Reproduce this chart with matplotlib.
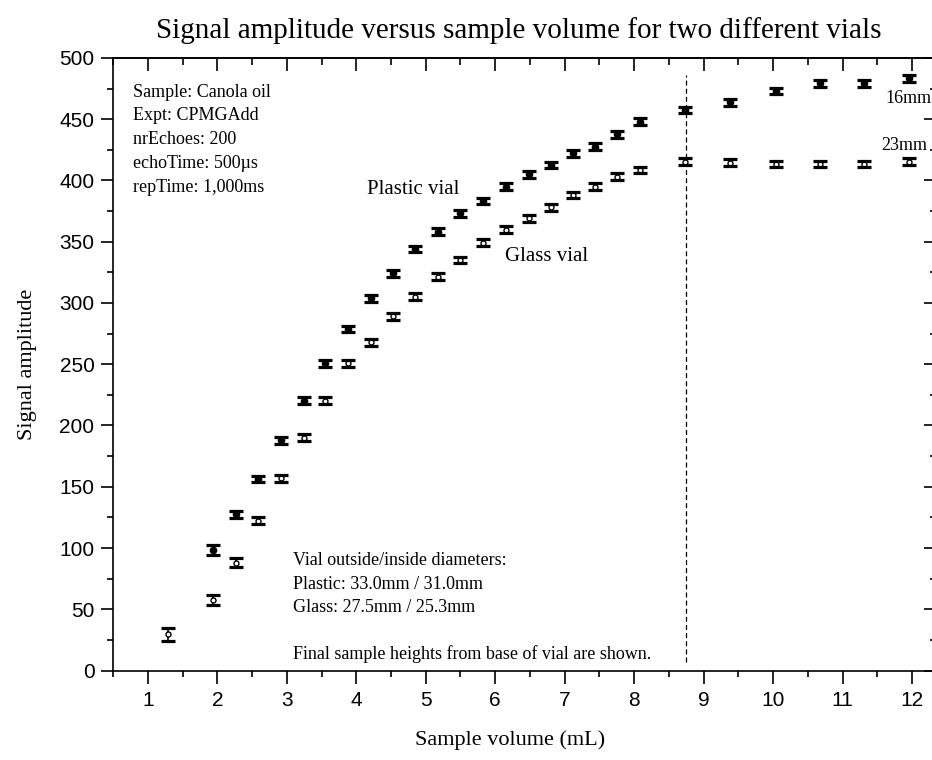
import matplotlib
matplotlib.use('Agg')
import matplotlib.pyplot as plt
from matplotlib.ticker import MultipleLocator

# sample volumes (mL)
vol = [1.94, 2.27, 2.59, 2.92, 3.24, 3.55, 3.88, 4.21, 4.53, 4.85, 5.18, 5.50, 5.83,
       6.15, 6.48, 6.80, 7.12, 7.44, 7.76, 8.08, 8.73, 9.38, 10.04, 10.68, 11.31, 11.96]

plastic = [98.4, 127.5, 156.3, 188.1, 220.2, 250.8, 278.8, 303.8, 324.3, 344.1, 358.2,
           373.2, 383.3, 395.0, 405.1, 412.7, 422.2, 427.6, 437.9, 447.9, 457.6, 463.8,
           473.1, 479.3, 479.3, 483.4]
plastic_err = [4.4, 3.0, 2.8, 2.8, 2.8, 2.8, 2.8, 2.8, 2.8, 2.8, 2.8, 2.8, 2.8,
               2.8, 2.8, 2.8, 2.8, 2.8, 2.8, 2.8, 2.8, 2.8, 2.8, 2.8, 2.8, 2.8]

glass_vol = [1.29] + vol
glass = [29.5, 57.5, 88.0, 122.3, 156.9, 190.0, 220.2, 250.8, 268.0, 289.0, 305.1, 321.5,
         335.1, 349.2, 359.8, 369.2, 378.1, 388.2, 395.0, 403.2, 408.6, 415.4, 414.6,
         413.5, 413.5, 413.5, 415.4]
glass_err = [5.2, 4.4, 3.5, 2.8, 2.8, 2.8, 2.8, 2.8, 2.8, 2.8, 2.8, 2.8, 2.8, 2.8,
             2.8, 2.8, 2.8, 2.8, 2.8, 2.8, 2.8, 2.8, 2.8, 2.8, 2.8, 2.8, 2.8]

vline_x = 8.75
vline_span = (7, 486)

info_lines = ['Sample: Canola oil', 'Expt: CPMGAdd', 'nrEchoes: 200',
              'echoTime: 500\u00b5s', 'repTime: 1,000ms']
vial_lines = ['Vial outside/inside diameters:', 'Plastic: 33.0mm / 31.0mm',
              'Glass: 27.5mm / 25.3mm', '', 'Final sample heights from base of vial are shown.']

serif = 'Liberation Serif'
sans = 'Liberation Sans'

W, H = 932, 760
fig = plt.figure(figsize=(W / 100, H / 100), dpi=100)
# axes box in pixels: left 112.5, right 937 (just off the canvas), top 58, bottom 670.5
ax = fig.add_axes([112.5 / W, (H - 670.5) / H, (937 - 112.5) / W, (670.5 - 58) / H])

ax.errorbar(vol, plastic, yerr=plastic_err, fmt='o', color='black', ms=4.5,
            elinewidth=1.5, capsize=4.8, capthick=2.3, zorder=3)

# glass: bar under the open marker, heavy caps above it
_, caps, bars = ax.errorbar(glass_vol, glass, yerr=glass_err, fmt='none', ecolor='black',
                            elinewidth=1.2, capsize=4.8, capthick=2.3)
for b in bars:
    b.set_zorder(2)
for c in caps:
    c.set_zorder(4)
ax.plot(glass_vol, glass, 'o', ms=3.6, mfc='white', mec='black', mew=1, zorder=3)

ax.vlines(vline_x, vline_span[0], vline_span[1], colors='black', linewidth=0.9,
          linestyles=(0, (4, 2.5)))

ax.set_xlim(0.49, 12.36)
ax.set_ylim(0, 500)

ax.xaxis.set_major_locator(MultipleLocator(1))
ax.xaxis.set_minor_locator(MultipleLocator(0.5))
ax.yaxis.set_major_locator(MultipleLocator(50))
ax.yaxis.set_minor_locator(MultipleLocator(25))
ax.tick_params(which='major', direction='out', length=9, width=1.2, labelsize=15, pad=4)
ax.tick_params(which='minor', direction='out', length=4.5, width=1.2)
ax.tick_params(axis='x', which='major', pad=6)
for lab in ax.get_xticklabels() + ax.get_yticklabels():
    lab.set_fontfamily(sans)

for s in ax.spines.values():
    s.set_linewidth(1.2)

# inward ticks on top and right
top = ax.secondary_xaxis('top')
top.xaxis.set_major_locator(MultipleLocator(1))
top.xaxis.set_minor_locator(MultipleLocator(0.5))
top.tick_params(which='major', direction='in', length=9.5, width=1.2, labeltop=False)
top.tick_params(which='minor', direction='in', length=5, width=1.2)
top.spines['top'].set_linewidth(1.2)
right = ax.secondary_yaxis('right')
right.yaxis.set_major_locator(MultipleLocator(50))
right.yaxis.set_minor_locator(MultipleLocator(25))
right.tick_params(which='major', direction='in', length=9.5, width=1.2, labelright=False)
right.tick_params(which='minor', direction='in', length=5, width=1.2)

fig.text(519 / W, 1 - 31 / H, 'Signal amplitude versus sample volume for two different vials',
         family=serif, fontsize=21, ha='center', va='center')
fig.text(510 / W, 1 - 740 / H, 'Sample volume (mL)', family=serif, fontsize=16,
         ha='center', va='center')
fig.text(28 / W, 1 - 364 / H, 'Signal amplitude', family=serif, fontsize=16,
         ha='center', va='center', rotation=90)

# text blocks, placed by pixel baselines
for i, t in enumerate(info_lines):
    fig.text(133 / W, 1 - (96.7 + 23.75 * i) / H, t, family=serif, fontsize=13,
             ha='left', va='baseline')
for i, t in enumerate(vial_lines):
    fig.text(292.7 / W, 1 - (565 + 23.6 * i) / H, t, family=serif, fontsize=13,
             ha='left', va='baseline')

fig.text(367 / W, 1 - 194 / H, 'Plastic vial', family=serif, fontsize=15,
         ha='left', va='baseline')
fig.text(505 / W, 1 - 260.7 / H, 'Glass vial', family=serif, fontsize=15,
         ha='left', va='baseline')
fig.text(885 / W, 1 - 103.3 / H, '16mm', family=serif, fontsize=13, ha='left', va='baseline')
fig.text(881.7 / W, 1 - 150 / H, '23mm', family=serif, fontsize=13, ha='left', va='baseline')

fig.savefig('out.png', dpi=100)
